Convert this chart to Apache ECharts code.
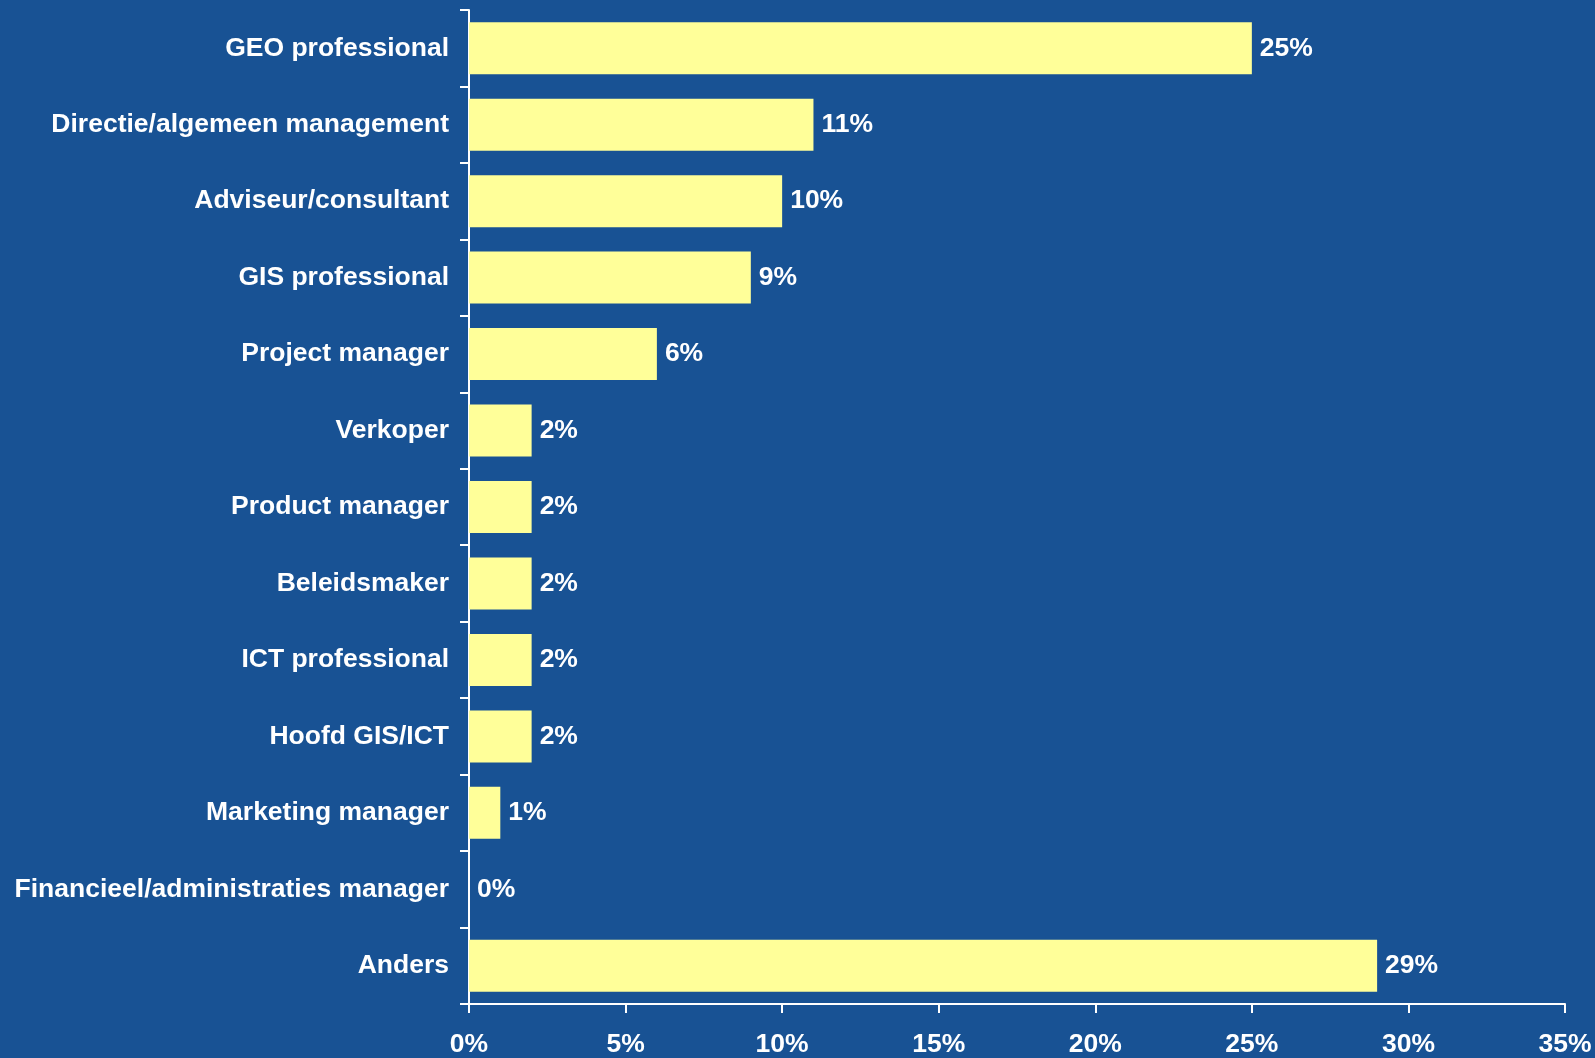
<!DOCTYPE html>
<html><head><meta charset="utf-8">
<script src="https://cdn.jsdelivr.net/npm/echarts@6/dist/echarts.min.js"></script>
<style>html,body{margin:0;padding:0;background:#185294;}#c{width:1595px;height:1058px;}</style>
</head><body><div id="c"></div>
<script>
const categories = ["GEO professional","Directie/algemeen management","Adviseur/consultant","GIS professional","Project manager","Verkoper","Product manager","Beleidsmaker","ICT professional","Hoofd GIS/ICT","Marketing manager","Financieel/administraties manager","Anders"];
const values = [25,11,10,9,6,2,2,2,2,2,1,0,29];
const xTicks = [0,5,10,15,20,25,30,35];

const chart = echarts.init(document.getElementById('c'));
const font = 'Liberation Sans, Arial, sans-serif';
chart.setOption({
  backgroundColor:'#185294',
  animation:false,
  grid:{left:469,right:30,top:10,bottom:54},
  xAxis:{type:'value',min:0,max:35,interval:5,
    axisLine:{show:true,lineStyle:{color:'#fff',width:2}},
    axisTick:{show:true,length:9,lineStyle:{color:'#fff',width:2}},
    splitLine:{show:false},
    axisLabel:{color:'#fff',fontFamily:font,fontWeight:'bold',fontSize:26.5,margin:27,
      formatter:v=>xTicks.includes(v)?v+'%':''}},
  yAxis:{type:'category',data:categories,inverse:true,
    axisLine:{show:true,lineStyle:{color:'#fff',width:2}},
    axisTick:{show:true,length:9,lineStyle:{color:'#fff',width:2}},
    axisLabel:{color:'#fff',fontFamily:font,fontWeight:'bold',fontSize:26.5,margin:20,padding:[7,0,0,0]}},
  series:[{type:'bar',data:values,barCategoryGap:'32%',
    itemStyle:{color:'#FFFF99'},
    label:{show:true,position:'right',distance:8,color:'#fff',fontFamily:font,fontWeight:'bold',fontSize:26.5,padding:[7,0,0,0],formatter:p=>p.value+'%'}}]
});
</script></body></html>
